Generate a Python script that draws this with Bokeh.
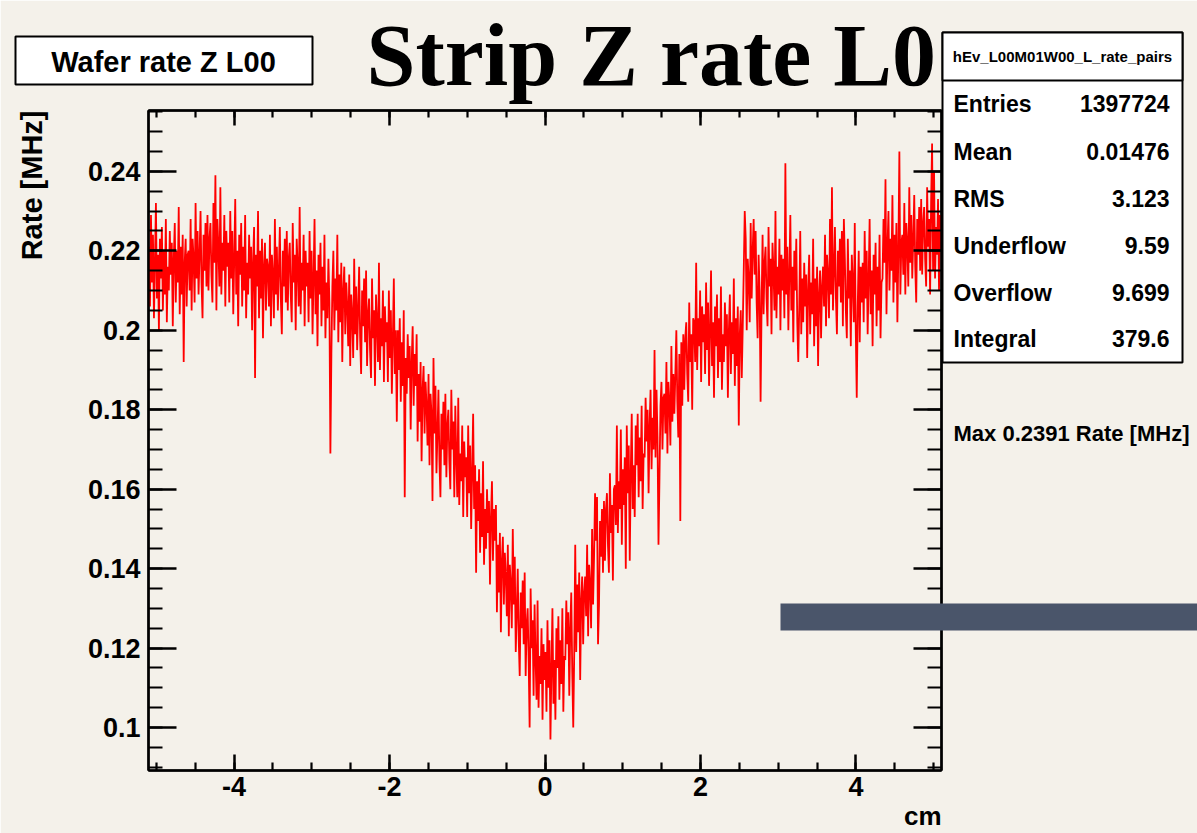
import math
from bokeh.plotting import figure
from bokeh.models import (LinearAxis, SingleIntervalTicker, CustomJSTickFormatter,
                          Label, Range1d, ColumnDataSource, GridBox)
from bokeh.embed import file_html
from bokeh.resources import INLINE

# ---------------- data ----------------
x_lo, x_hi = -5.1, 5.1          # histogram / axis range, cm
y_lo, y_hi = 0.0892, 0.2553     # axis range, MHz

# bin contents, Rate [MHz], 800 bins from -5.1 to 5.1 cm (20 bins per line)
rate = [
    0.221, 0.206, 0.229, 0.212, 0.224, 0.203, 0.217, 0.232, 0.208, 0.219, 0.200, 0.223, 0.213, 0.226, 0.205, 0.220, 0.209, 0.228, 0.202, 0.216,
    0.210, 0.225, 0.214, 0.222, 0.201, 0.218, 0.227, 0.207, 0.220, 0.212, 0.231, 0.204, 0.221, 0.209, 0.224, 0.192, 0.217, 0.223, 0.206, 0.219,
    0.220, 0.210, 0.228, 0.205, 0.223, 0.218, 0.207, 0.232, 0.213, 0.225, 0.209, 0.219, 0.230, 0.212, 0.203, 0.224, 0.215, 0.227, 0.211, 0.229,
    0.210, 0.223, 0.227, 0.214, 0.207, 0.232, 0.217, 0.239, 0.205, 0.228, 0.221, 0.211, 0.236, 0.209, 0.222, 0.215, 0.229, 0.206, 0.225, 0.216,
    0.222, 0.207, 0.230, 0.213, 0.225, 0.204, 0.218, 0.233, 0.209, 0.220, 0.201, 0.224, 0.214, 0.227, 0.206, 0.221, 0.210, 0.229, 0.203, 0.217,
    0.209, 0.224, 0.213, 0.221, 0.200, 0.217, 0.226, 0.188, 0.219, 0.211, 0.230, 0.203, 0.220, 0.208, 0.223, 0.198, 0.216, 0.222, 0.205, 0.218,
    0.216, 0.206, 0.224, 0.201, 0.219, 0.214, 0.203, 0.228, 0.209, 0.221, 0.205, 0.215, 0.226, 0.208, 0.199, 0.220, 0.211, 0.223, 0.207, 0.225,
    0.205, 0.218, 0.222, 0.209, 0.202, 0.227, 0.212, 0.219, 0.200, 0.223, 0.216, 0.206, 0.231, 0.204, 0.217, 0.210, 0.224, 0.201, 0.220, 0.211,
    0.217, 0.202, 0.225, 0.208, 0.220, 0.199, 0.213, 0.228, 0.204, 0.215, 0.196, 0.219, 0.209, 0.222, 0.201, 0.216, 0.205, 0.224, 0.198, 0.212,
    0.203, 0.218, 0.207, 0.169, 0.194, 0.211, 0.220, 0.200, 0.213, 0.205, 0.224, 0.197, 0.214, 0.202, 0.217, 0.192, 0.210, 0.216, 0.199, 0.212,
    0.206, 0.196, 0.214, 0.191, 0.209, 0.204, 0.193, 0.218, 0.199, 0.211, 0.195, 0.205, 0.216, 0.198, 0.189, 0.210, 0.201, 0.213, 0.197, 0.215,
    0.191, 0.204, 0.208, 0.195, 0.188, 0.213, 0.198, 0.205, 0.186, 0.209, 0.202, 0.192, 0.217, 0.190, 0.203, 0.196, 0.210, 0.187, 0.206, 0.197,
    0.202, 0.187, 0.210, 0.193, 0.205, 0.184, 0.198, 0.213, 0.189, 0.200, 0.177, 0.200, 0.190, 0.203, 0.182, 0.197, 0.186, 0.205, 0.158, 0.193,
    0.184, 0.199, 0.188, 0.196, 0.175, 0.192, 0.201, 0.181, 0.194, 0.186, 0.199, 0.172, 0.189, 0.177, 0.192, 0.167, 0.185, 0.191, 0.174, 0.187,
    0.181, 0.171, 0.189, 0.166, 0.184, 0.179, 0.157, 0.193, 0.174, 0.186, 0.164, 0.174, 0.185, 0.167, 0.158, 0.179, 0.170, 0.182, 0.166, 0.184,
    0.163, 0.176, 0.180, 0.167, 0.160, 0.185, 0.170, 0.177, 0.158, 0.181, 0.168, 0.158, 0.183, 0.156, 0.169, 0.162, 0.176, 0.153, 0.172, 0.163,
    0.168, 0.153, 0.176, 0.159, 0.171, 0.150, 0.164, 0.179, 0.155, 0.166, 0.139, 0.162, 0.152, 0.165, 0.144, 0.159, 0.148, 0.167, 0.141, 0.155,
    0.145, 0.160, 0.149, 0.157, 0.136, 0.153, 0.162, 0.142, 0.155, 0.147, 0.156, 0.129, 0.146, 0.134, 0.149, 0.124, 0.142, 0.148, 0.131, 0.144,
    0.138, 0.128, 0.146, 0.123, 0.141, 0.136, 0.125, 0.150, 0.131, 0.143, 0.119, 0.129, 0.140, 0.122, 0.113, 0.134, 0.125, 0.137, 0.121, 0.139,
    0.113, 0.126, 0.130, 0.117, 0.100, 0.135, 0.120, 0.127, 0.108, 0.131, 0.117, 0.107, 0.132, 0.105, 0.118, 0.111, 0.125, 0.102, 0.121, 0.112,
    0.119, 0.104, 0.127, 0.110, 0.122, 0.097, 0.115, 0.130, 0.106, 0.117, 0.102, 0.125, 0.115, 0.128, 0.107, 0.122, 0.111, 0.130, 0.104, 0.118,
    0.117, 0.132, 0.121, 0.129, 0.108, 0.125, 0.134, 0.114, 0.100, 0.119, 0.146, 0.119, 0.136, 0.124, 0.139, 0.112, 0.132, 0.138, 0.121, 0.134,
    0.138, 0.128, 0.146, 0.123, 0.141, 0.136, 0.125, 0.150, 0.131, 0.143, 0.159, 0.147, 0.158, 0.121, 0.131, 0.152, 0.143, 0.155, 0.139, 0.157,
    0.142, 0.155, 0.159, 0.146, 0.139, 0.164, 0.149, 0.156, 0.137, 0.160, 0.161, 0.151, 0.176, 0.149, 0.162, 0.155, 0.175, 0.146, 0.165, 0.156,
    0.168, 0.140, 0.176, 0.159, 0.171, 0.142, 0.164, 0.179, 0.155, 0.166, 0.153, 0.176, 0.166, 0.179, 0.158, 0.173, 0.162, 0.181, 0.155, 0.169,
    0.168, 0.183, 0.172, 0.180, 0.159, 0.176, 0.185, 0.165, 0.178, 0.170, 0.195, 0.168, 0.185, 0.173, 0.146, 0.163, 0.181, 0.187, 0.170, 0.183,
    0.184, 0.174, 0.192, 0.169, 0.187, 0.182, 0.171, 0.196, 0.177, 0.189, 0.179, 0.189, 0.200, 0.182, 0.173, 0.194, 0.152, 0.197, 0.181, 0.199,
    0.185, 0.198, 0.202, 0.189, 0.182, 0.207, 0.192, 0.199, 0.180, 0.203, 0.202, 0.192, 0.217, 0.190, 0.203, 0.196, 0.210, 0.187, 0.206, 0.197,
    0.204, 0.189, 0.212, 0.195, 0.207, 0.186, 0.200, 0.215, 0.191, 0.202, 0.183, 0.206, 0.196, 0.209, 0.188, 0.203, 0.192, 0.211, 0.185, 0.199,
    0.192, 0.207, 0.196, 0.204, 0.183, 0.200, 0.209, 0.189, 0.202, 0.194, 0.213, 0.186, 0.203, 0.191, 0.206, 0.176, 0.199, 0.205, 0.188, 0.201,
    0.215, 0.230, 0.223, 0.200, 0.218, 0.213, 0.202, 0.227, 0.208, 0.220, 0.228, 0.214, 0.225, 0.207, 0.198, 0.219, 0.210, 0.182, 0.206, 0.224,
    0.204, 0.217, 0.221, 0.208, 0.201, 0.226, 0.211, 0.218, 0.199, 0.222, 0.215, 0.205, 0.230, 0.203, 0.216, 0.209, 0.223, 0.200, 0.219, 0.210,
    0.218, 0.203, 0.242, 0.209, 0.221, 0.200, 0.214, 0.229, 0.205, 0.216, 0.197, 0.220, 0.210, 0.223, 0.202, 0.192, 0.206, 0.225, 0.199, 0.213,
    0.202, 0.217, 0.206, 0.214, 0.193, 0.210, 0.219, 0.199, 0.212, 0.204, 0.223, 0.196, 0.213, 0.201, 0.216, 0.191, 0.209, 0.215, 0.198, 0.211,
    0.216, 0.206, 0.224, 0.201, 0.219, 0.214, 0.203, 0.228, 0.209, 0.236, 0.205, 0.215, 0.226, 0.208, 0.199, 0.220, 0.211, 0.223, 0.207, 0.225,
    0.201, 0.228, 0.218, 0.205, 0.198, 0.223, 0.208, 0.215, 0.196, 0.219, 0.212, 0.202, 0.227, 0.200, 0.183, 0.206, 0.220, 0.197, 0.216, 0.207,
    0.217, 0.202, 0.225, 0.208, 0.220, 0.199, 0.213, 0.228, 0.204, 0.215, 0.196, 0.219, 0.209, 0.222, 0.201, 0.216, 0.205, 0.224, 0.198, 0.212,
    0.213, 0.228, 0.217, 0.238, 0.204, 0.221, 0.230, 0.210, 0.223, 0.215, 0.234, 0.207, 0.224, 0.212, 0.227, 0.202, 0.220, 0.245, 0.209, 0.222,
    0.224, 0.214, 0.232, 0.209, 0.227, 0.222, 0.211, 0.236, 0.217, 0.229, 0.213, 0.223, 0.234, 0.216, 0.207, 0.228, 0.219, 0.231, 0.215, 0.233,
    0.214, 0.227, 0.231, 0.218, 0.211, 0.236, 0.221, 0.228, 0.209, 0.232, 0.247, 0.215, 0.240, 0.213, 0.226, 0.219, 0.233, 0.210, 0.229, 0.220,
]

title_text = "Strip Z rate L0"
pad_text = "Wafer rate Z L00"
hist_name = "hEv_L00M01W00_L_rate_pairs"
stat_names = ["Entries", "Mean", "RMS", "Underflow", "Overflow", "Integral"]
stat_values = ["1397724", "0.01476", "3.123", "9.59", "9.699", "379.6"]
max_text = "Max 0.2391 Rate [MHz]"
x_label = "cm"
y_label = "Rate [MHz]"

n_bins = len(rate)
bw = (x_hi - x_lo) / n_bins
centers = [x_lo + (i + 0.5) * bw for i in range(n_bins)]
src = ColumnDataSource(dict(x=centers, y=rate))

# ---------------- layout ----------------
W, H = 1197, 833
FL, FR, FT, FB = 148, 941, 110, 770   # frame edges in canvas px
BG = "#F4F1EA"
SANS = "Liberation Sans"
SERIF = "Liberation Serif"

# ---- main histogram figure ----
p = figure(width=W, height=H, x_range=Range1d(x_lo, x_hi), y_range=Range1d(y_lo, y_hi),
           output_backend="svg", toolbar_location=None,
           min_border_left=FL, min_border_right=W - FR,
           min_border_top=FT, min_border_bottom=H - FB)
p.background_fill_color = BG
p.border_fill_color = BG
p.outline_line_color = "black"
p.outline_line_width = 2
p.xgrid.visible = False
p.ygrid.visible = False

fmt = CustomJSTickFormatter(code="return String(parseFloat(tick.toFixed(4)));")


def style_axis(ax, major_in, minor_in, show_labels):
    ax.major_tick_in = major_in
    ax.major_tick_out = 0
    ax.minor_tick_in = minor_in
    ax.minor_tick_out = 0
    ax.axis_line_color = "black"
    ax.axis_line_width = 2.5
    ax.major_tick_line_color = "black"
    ax.major_tick_line_width = 2.5
    ax.minor_tick_line_color = "black"
    ax.minor_tick_line_width = 2.2
    ax.formatter = fmt
    if show_labels:
        ax.major_label_text_font = SANS
        ax.major_label_text_font_style = "bold"
        ax.major_label_text_font_size = "27px"
        ax.major_label_text_color = "black"
    else:
        ax.major_label_text_font_size = "0px"
        ax.major_label_text_alpha = 0


xb = p.xaxis[0]
xb.ticker = SingleIntervalTicker(interval=2, num_minor_ticks=4)
style_axis(xb, 16, 8, True)
xb.major_label_standoff = 6

yl = p.yaxis[0]
yl.ticker = SingleIntervalTicker(interval=0.02, num_minor_ticks=4)
style_axis(yl, 28, 14, True)
yl.major_label_standoff = 8

xt = LinearAxis(ticker=SingleIntervalTicker(interval=2, num_minor_ticks=4))
style_axis(xt, 15, 7, False)
p.add_layout(xt, "above")

yr = LinearAxis(ticker=SingleIntervalTicker(interval=0.02, num_minor_ticks=4))
style_axis(yr, 28, 14, False)
p.add_layout(yr, "right")

p.line("x", "y", source=src, line_color="#FF0000", line_width=1.8)

# ---- transparent overlay figure for the pave texts, stats box, labels ----
q = figure(width=W, height=H, x_range=Range1d(0, W), y_range=Range1d(H, 0),
           output_backend="svg", toolbar_location=None,
           x_axis_location=None, y_axis_location=None,
           min_border=0, min_border_left=0, min_border_right=0,
           min_border_top=0, min_border_bottom=0)
q.background_fill_alpha = 0
q.border_fill_alpha = 0
q.outline_line_color = None
q.xgrid.visible = False
q.ygrid.visible = False

# keep each figure's own frame (no frame alignment between overlaid figures)
for fig in (p, q):
    if "frame_align" in fig.properties():
        fig.frame_align = False


def box(l, t, r, b, fill="white", line="black", lw=2):
    q.quad(left=[l], right=[r], top=[t], bottom=[b], fill_color=fill, fill_alpha=1.0,
           line_color=line, line_width=lw)


def text(cx, cy, s, size, align="left", baseline="middle", font=SANS,
         style="bold", angle=0.0):
    q.add_layout(Label(x=cx, y=cy, text=s,
                       text_font=font, text_font_style=style, text_font_size=f"{size}px",
                       text_color="black", text_align=align, text_baseline=baseline,
                       angle=angle))


# pave with pad name
box(15, 36, 312, 84)
text(163, 61, pad_text, 29, align="center")

# title
text(366, 55, title_text, 88, font=SERIF)

# statistics box
box(942, 32, 1182, 362)
box(942, 32, 1182, 80)
text(1062, 56, hist_name, 15, align="center")
row_y = [103, 151, 198, 245, 292, 338]
for name, val, cy in zip(stat_names, stat_values, row_y):
    text(953, cy, name, 23)
    text(1169, cy, val, 23, align="right")

text(953, 433, max_text, 22)

# dark bar
box(780, 603, 1197, 630, fill="#4A556A", line=None, lw=0)

# axis titles
text(941, 815, x_label, 26, align="right")
text(31, 110, y_label, 29, align="right", angle=math.pi / 2)

grid = GridBox(children=[(p, 0, 0), (q, 0, 0)], width=W, height=H)
open("out.html", "w").write(file_html(grid, INLINE))
